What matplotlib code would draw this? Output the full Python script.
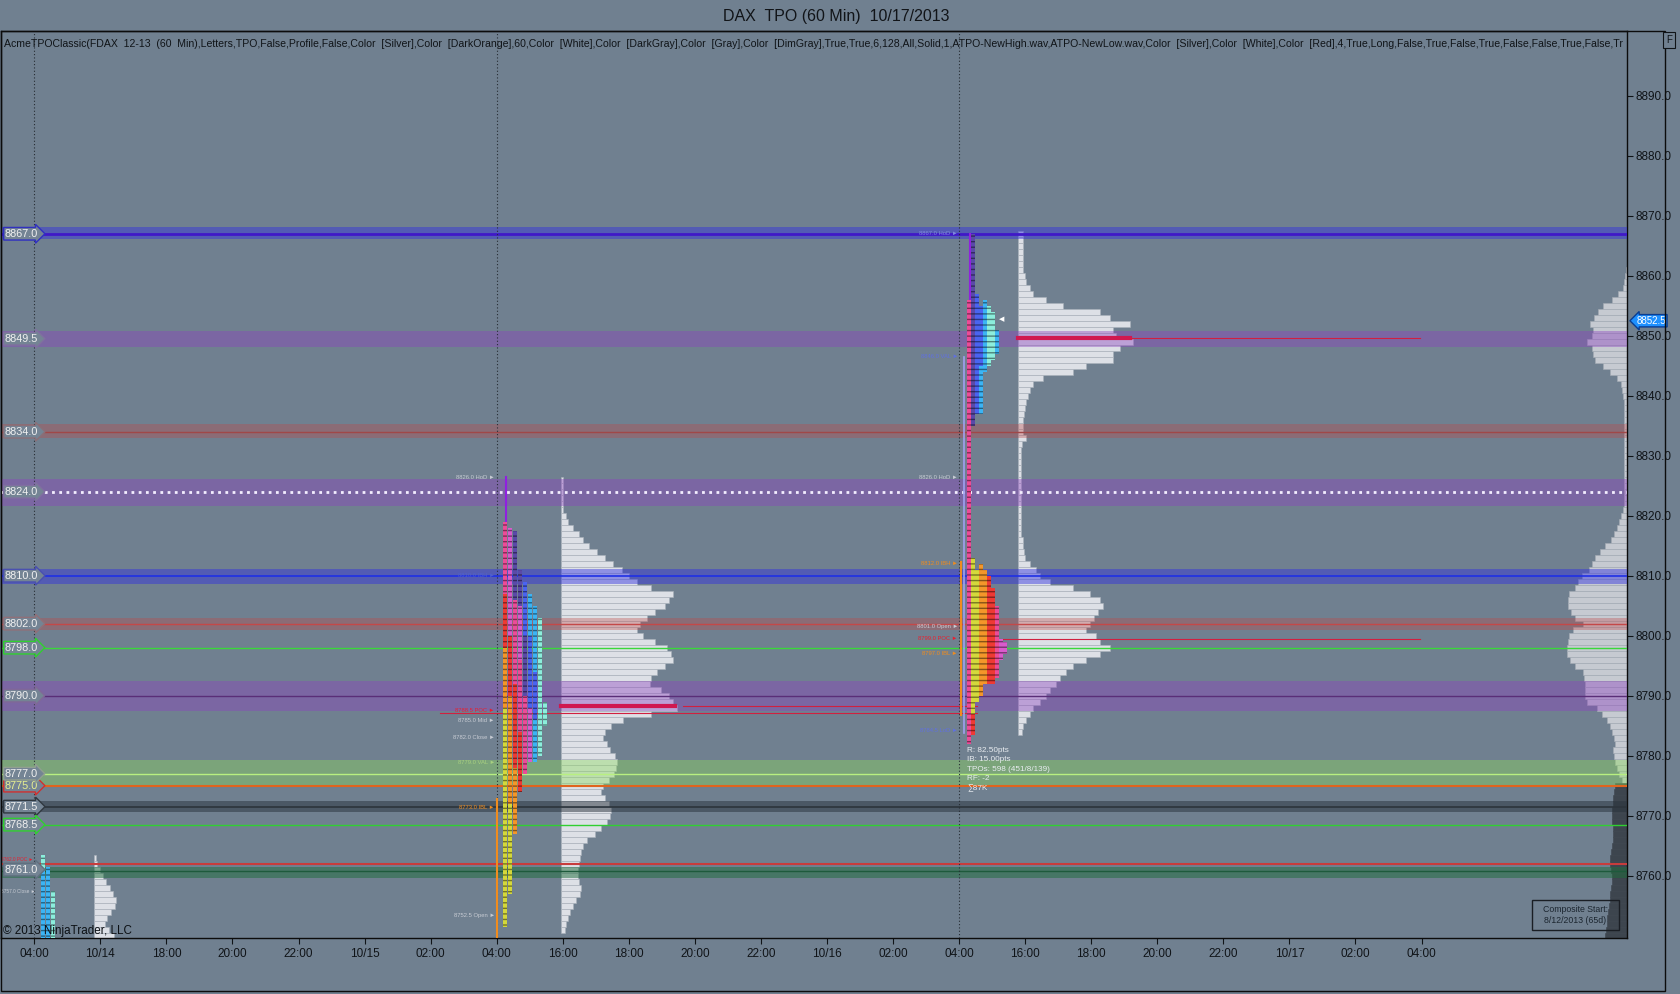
import numpy as np
import matplotlib.pyplot as plt
import matplotlib.transforms as mtransforms
from matplotlib.colors import to_rgb
from matplotlib.patches import Rectangle

plt.rcParams['font.family'] = ['Liberation Sans', 'DejaVu Sans']

BG = '#708090'

# ---- x axis: one unit per time label -------------------------------------
x_labels = ['04:00', '10/14', '18:00', '20:00', '22:00', '10/15', '02:00',
            '04:00', '16:00', '18:00', '20:00', '22:00', '10/16', '02:00',
            '04:00', '16:00', '18:00', '20:00', '22:00', '10/17', '02:00', '04:00']
session_starts = [0, 7, 14]
y_ticks = np.arange(8760, 8891, 10)

# ---- horizontal zones --------------------------------------------------------
band_lo = [8866.1, 8848.2, 8832.9, 8821.6, 8808.6, 8801.0, 8787.4, 8774.7, 8770.6, 8759.6]
band_hi = [8868.2, 8850.8, 8835.3, 8826.2, 8811.1, 8803.0, 8792.4, 8779.2, 8772.4, 8761.5]
band_clr = ['#3030e0', '#8c40c0', '#c04848', '#8c40c0', '#3030e0', '#c04848',
            '#8c40c0', '#8cdc5a', '#28323c', '#1e6e3c']
band_alpha = [0.45, 0.40, 0.35, 0.40, 0.45, 0.35, 0.40, 0.40, 0.50, 0.50]

line_price = [8867.0, 8834.0, 8810.0, 8802.0, 8798.0, 8790.0, 8777.0, 8775.0,
              8771.5, 8768.5, 8761.9, 8760.8]
line_clr = ['#4018c8', '#a04848', '#1f2fe6', '#c44848', '#3ad83a', '#5a2e78',
            '#b8f080', '#e0641e', '#2c343c', '#30d030', '#c83c3c', '#1e5a3c']
line_lw = [2.0, 1.0, 1.2, 1.0, 1.0, 1.0, 1.0, 1.5, 1.2, 1.0, 1.5, 1.0]
dotted_level = 8824.0

label_price = [8867.0, 8849.5, 8834.0, 8824.0, 8810.0, 8802.0, 8798.0, 8790.0,
               8775.0, 8777.0, 8771.5, 8768.5, 8761.0]
label_edge = ['#3030c0', '#8070a0', '#8a7078', '#8070a0', '#4a50b0', '#907078',
              '#30d030', '#806898', '#d03030', '#90a090', '#303840', '#30d030', '#607080']
label_txt_clr = ['#f0f0f0'] * 8 + ['#e8f090'] + ['#f0f0f0'] * 4

# ---- session profiles (price rows, width in px) -----------------------------
s1_price = np.arange(8763, 8749, -1)
s1_width = [2, 3, 6, 9, 12, 16, 19, 22, 21, 17, 13, 11, 15, 20]

s2_price = np.arange(8826, 8750, -1)
s2_width = [2, 2, 2, 2, 2, 2, 5, 7, 12, 18, 22, 28, 36, 44, 52, 61, 68, 76, 90, 112,
            108, 104, 94, 86, 79, 76, 82, 94, 106, 110, 112, 104, 96, 90, 89, 100, 108, 112, 116, 90,
            62, 50, 44, 42, 46, 49, 54, 56, 55, 53, 48, 42, 40, 44, 48, 50, 49, 46, 40, 34,
            26, 22, 20, 19, 18, 17, 17, 18, 20, 19, 15, 12, 9, 7, 5, 4]

s3_price = np.arange(8867, 8783, -1)
s3_width = [5, 5, 5, 5, 5, 5, 5, 7, 8, 12, 15, 28, 45, 82, 92, 112, 95, 98, 115, 102,
            95, 95, 68, 55, 25, 15, 12, 10, 8, 7, 6, 5, 5, 5, 8, 4, 3, 3, 3, 3,
            3, 3, 3, 3, 3, 3, 3, 3, 3, 3, 3, 5, 5, 6, 7, 12, 18, 22, 32, 55,
            72, 82, 85, 80, 76, 72, 68, 78, 82, 92, 82, 68, 55, 48, 42, 38, 32, 28, 22, 15,
            12, 8, 5, 4]

# composite profile (65 days), drawn from the price axis
comp_price = np.arange(8861, 8749, -1)
comp_width = [1, 2, 3, 4, 9, 15, 24, 29, 33, 37, 34, 35, 40, 35, 34, 32, 24, 17, 10, 6,
              5, 4, 3, 3, 3, 3, 3, 3, 3, 3, 3, 3, 3, 3, 3, 3, 3, 3, 3, 3,
              4, 6, 8, 10, 13, 16, 22, 27, 32, 35, 38, 45, 49, 52, 58, 59, 59, 56, 52, 44,
              54, 58, 59, 60, 60, 57, 52, 44, 43, 42, 42, 42, 40, 30, 25, 20, 17, 15, 13, 12,
              14, 13, 12, 10, 8, 5, 12, 13, 14, 14, 15, 15, 15, 14, 14, 14, 15, 16, 17, 17,
              16, 15, 15, 16, 17, 17, 18, 19, 20, 20, 21, 22]
comp_va_low = 8775.5

# ---- TPO columns: (column, low, high, period) --------------------------------
tpo_palette = ['#d4d83c', '#f4962a', '#ee3a34', '#ec4c98', '#d85ccc', '#5a4aa8',
               '#4a64f0', '#3cb4f4', '#8ceedc']
s1_tpo = [(0, 8749.5, 8763.5, 8), (0, 8749.5, 8761.0, 7), (1, 8749.5, 8761.5, 7),
          (2, 8749.5, 8757.5, 8)]
s2_tpo = [(0, 8751.5, 8788, 0), (0, 8788, 8798, 1), (0, 8798, 8807, 2), (0, 8807, 8819, 3),
          (1, 8757, 8772, 0), (1, 8772, 8790, 1), (1, 8790, 8800, 2), (1, 8800, 8818, 4),
          (2, 8767, 8778, 1), (2, 8778, 8792, 2), (2, 8792, 8806, 3), (2, 8806, 8817.5, 5),
          (3, 8774, 8784, 2), (3, 8784, 8796, 3), (3, 8796, 8805, 4), (3, 8805, 8811, 5),
          (4, 8777, 8790, 3), (4, 8790, 8800, 5), (4, 8800, 8809, 6),
          (5, 8779, 8788, 4), (5, 8788, 8800, 6), (5, 8800, 8807, 7),
          (6, 8779, 8786, 7), (6, 8786, 8794, 6), (6, 8794, 8805, 7),
          (7, 8780, 8785, 8), (7, 8785, 8803, 8), (8, 8785, 8789, 8)]
s3_tpo = [(1, 8782, 8856, 3),
          (2, 8783.5, 8787, 2), (2, 8787, 8813, 0), (2, 8835, 8867, 5),
          (3, 8789, 8811, 0), (3, 8837, 8857, 6),
          (4, 8790, 8812, 1), (4, 8837, 8845, 7), (4, 8845, 8855, 6),
          (5, 8792, 8811, 1), (5, 8844, 8856, 7),
          (6, 8792, 8810, 2), (6, 8845, 8855, 8),
          (7, 8792, 8808, 2), (7, 8846, 8854, 8),
          (8, 8793, 8805, 3), (8, 8847, 8851, 7),
          (9, 8796, 8799.5, 4), (10, 8797, 8799, 4)]

# ---- small session notes: (session, price, text, colour) ---------------------
notes = [(2, 8826.3, '8826.0 HoD', '#c8ccd4'), (2, 8810.0, '8810.0 IBH', '#5060d0'),
         (2, 8787.6, '8788.5 POC', '#e82030'), (2, 8785.8, '8785.0 Mid', '#c8ccd4'),
         (2, 8783.0, '8782.0 Close', '#c8ccd4'), (2, 8778.8, '8779.0 VAL', '#a8d080'),
         (2, 8771.3, '8773.0 IBL', '#f08c1e'), (2, 8753.3, '8752.5 Open', '#c8ccd4'),
         (3, 8867.0, '8867.0 HoD', '#8088e0'), (3, 8846.5, '8846.0 VAL', '#6070e0'),
         (3, 8826.3, '8826.0 HoD', '#c8ccd4'), (3, 8812.0, '8812.0 IBH', '#f08c1e'),
         (3, 8801.5, '8801.0 Open', '#c8ccd4'), (3, 8799.5, '8799.0 POC', '#e82030'),
         (3, 8797.0, '8797.0 IBL', '#f08c1e'), (3, 8784.2, '8784.5 LoD', '#6070e0'),
         (1, 8762.7, '8762.0 POC', '#e82030'), (1, 8757.4, '8757.0 Close', '#c8ccd4')]

stats = 'R: 82.50pts\nIB: 15.00pts\nTPOs: 598 (451/8/139)\nRF: -2\n\u221187K'
header = ('AcmeTPOClassic(FDAX  12-13  (60  Min),Letters,TPO,False,Profile,False,Color  [Silver],'
          'Color  [DarkOrange],60,Color  [White],Color  [DarkGray],Color  [Gray],Color  [DimGray],'
          'True,True,6,128,All,Solid,1,ATPO-NewHigh.wav,ATPO-NewLow.wav,Color  [Silver],Color  [White],'
          'Color  [Red],4,True,Long,False,True,False,True,False,False,True,False,Tr')

# ---- figure -------------------------------------------------------------------
PX = 66.06                      # pixels per x unit
X0, X1 = -0.504, 24.11
def ux(px):
    return (px - 34.3) / PX

fig = plt.figure(figsize=(16.8, 9.94), dpi=100)
fig.patch.set_facecolor(BG)
ax = fig.add_axes([1 / 1680, 1 - 938 / 994, 1626 / 1680, 907 / 994])
ax.set_facecolor(BG)
ax.set_xlim(X0, X1)
ax.set_ylim(8749.6, 8900.8)

# session profiles
prof_fc, prof_ec = '#dde0e6', '#a9b0ba'
for start, pr, wd in [(ux(94.3), s1_price, s1_width), (ux(561), s2_price, s2_width),
                      (ux(1018), s3_price, s3_width)]:
    ax.barh(pr, np.array(wd) / PX, left=start, height=1.0, color=prof_fc,
            edgecolor=prof_ec, linewidth=0.4, zorder=2)

# composite profile
cw = np.array(comp_width) / PX
cclr = np.where(comp_price > comp_va_low, '#c6cad1', '#3d454e')
cedge = np.where(comp_price > comp_va_low, '#a4abb5', '#3d454e')
ax.barh(comp_price, cw, left=X1 - cw, height=1.0, color=cclr, edgecolor=cedge,
        linewidth=0.4, zorder=2)

# bands and level lines
for lo, hi, c, a in zip(band_lo, band_hi, band_clr, band_alpha):
    ax.axhspan(lo, hi, color=c, alpha=a, lw=0, zorder=3)
for p, c, w in zip(line_price, line_clr, line_lw):
    ax.axhline(p, color=c, lw=w, zorder=4)
ax.axhline(dotted_level, color='#f4eeff', lw=2, ls=(0, (1, 1.6)), zorder=4)

# session separators
for s in session_starts:
    ax.axvline(s, color='#262c33', lw=0.8, ls=(0, (1, 2)), zorder=4)

# POC lines
ax.plot([ux(683), ux(977)], [8788.3, 8788.3], color='#d02040', lw=0.8, zorder=4)
ax.plot([ux(440), ux(977)], [8787.1, 8787.1], color='#d02040', lw=0.8, zorder=4)
ax.plot([ux(561), ux(675)], [8788.3, 8788.3], color='#d01850', lw=3, zorder=4)
ax.plot([ux(1018), ux(1130)], [8849.6, 8849.6], color='#d01850', lw=3, zorder=4)
ax.plot([ux(1130), ux(1420)], [8849.6, 8849.6], color='#d02040', lw=0.8, zorder=4)
ax.plot([ux(1000), ux(1420)], [8799.4, 8799.4], color='#d02040', lw=0.8, zorder=4)

# range lines next to the TPO columns
ax.plot([7.0, 7.0], [8749.6, 8772.8], color='#f08c1e', lw=1.5, zorder=5)
ax.plot([ux(961), ux(961)], [8786.7, 8812.2], color='#f08c1e', lw=1.5, zorder=5)
ax.plot([ux(964), ux(964)], [8783.7, 8846.5], color='#a0a0f0', lw=1.2, zorder=5)
ax.plot([ux(506), ux(506)], [8818.5, 8826.5], color='#9020e0', lw=1.5, zorder=5)
ax.plot([ux(970), ux(970)], [8856, 8867], color='#9020e0', lw=1.5, zorder=5)

# TPO letters
for x0, cwid, segs in [(ux(41), 5 / PX, s1_tpo), (ux(503), 5 / PX, s2_tpo), (ux(963), 4 / PX, s3_tpo)]:
    for col, lo, hi, per in segs:
        fc = tpo_palette[per]
        hc = tuple(v * 0.55 for v in to_rgb(fc))
        ax.add_patch(Rectangle((x0 + col * cwid, lo), cwid * 0.9, hi - lo,
                               facecolor=fc, edgecolor=hc, hatch='---', lw=0, zorder=5))

# session notes
for s, p, t, c in notes:
    if s == 1:
        ax.text(ux(1.5), p, t + ' \u25ba', ha='left', va='center', fontsize=3.4,
                color=c, zorder=6)
    else:
        ax.text(ux(495) if s == 2 else ux(958), p, t + ' \u25ba', ha='right',
                va='center', fontsize=4.2, color=c, zorder=6)
ax.text(ux(1002), 8852.6, '\u25c0', ha='center', va='center', fontsize=5,
        color='white', zorder=6)
ax.text(ux(967), 8781.5, stats, ha='left', va='top', fontsize=5.9, color='#e8ecf0',
        linespacing=1.5, zorder=6)

# left level labels
for p, ec, tc in zip(label_price, label_edge, label_txt_clr):
    ax.text(ux(5), p, '%.1f' % p, ha='left', va='center', fontsize=7.8, color=tc,
            zorder=7, bbox=dict(boxstyle='rarrow,pad=0.12', fc='#748494', ec=ec, lw=1))

# composite note
ax.add_patch(Rectangle((ux(1532), 8750.95), ux(1619) - ux(1532), 5.0, fill=False,
                       edgecolor='#1a1e24', lw=1, zorder=7))
ax.text((ux(1532) + ux(1619)) / 2, 8753.45, 'Composite Start:\n8/12/2013 (65d)',
        ha='center', va='center', fontsize=6.3, color='#1c2630', linespacing=1.3, zorder=7)

# axes styling
ax.set_xticks(range(len(x_labels)))
ax.set_xticklabels(x_labels)
ax.yaxis.tick_right()
ax.set_yticks(y_ticks)
ax.set_yticklabels(['%.1f' % v for v in y_ticks])
ax.tick_params(axis='both', colors='#101418', labelsize=8.5, length=4, width=0.8)
ax.tick_params(axis='x', pad=3)
ax.tick_params(axis='y', pad=2)
for sp in ax.spines.values():
    sp.set_color('#0c0c0c')
    sp.set_linewidth(1)

# current price marker
tr = mtransforms.blended_transform_factory(ax.transAxes, ax.transData)
ax.text(1.0058, 8852.5, '8852.5', transform=tr, ha='left', va='center', fontsize=7.0,
        color='white', clip_on=False, zorder=9,
        bbox=dict(boxstyle='larrow,pad=0.12', fc='#1e90ff', ec='#0b3d91', lw=1))

# outer frame, title, copyright, F box
fig.add_artist(Rectangle((1 / 1680, 1 - 991 / 994), 1664 / 1680, 960 / 994, fill=False,
                         edgecolor='#0c0c0c', lw=1, transform=fig.transFigure, zorder=1))
fig.text(836 / 1680, 1 - 16 / 994, 'DAX  TPO (60 Min)  10/17/2013', ha='center',
         va='center', fontsize=11.5, color='#111418')
fig.text(3 / 1680, 1 - 931 / 994, '\u00a9 2013 NinjaTrader, LLC', ha='left', va='center',
         fontsize=8.4, color='#0c1014')
fig.text(1669 / 1680, 1 - 40 / 994, 'F', ha='center', va='center', fontsize=7,
         color='#101418', bbox=dict(boxstyle='square,pad=0.35', fc=BG, ec='#101418', lw=0.8))

# header text inside the panel, sized to end at the price axis
hdr = fig.text(4 / 1680, 1 - 44 / 994, header, ha='left', va='center',
               fontsize=7.5, color='#101418', zorder=7)
fig.canvas.draw()
hw = hdr.get_window_extent().width
hdr.set_fontsize(7.5 * 1618 / hw)

fig.savefig('out.png', dpi=100, facecolor=BG)
